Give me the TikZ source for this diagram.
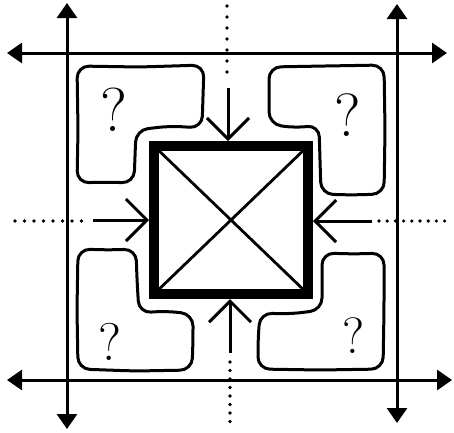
\documentclass[tikz,border=0pt]{standalone}
\usetikzlibrary{arrows.meta}
\begin{document}
\begin{tikzpicture}[x=1pt,y=-1pt,
  frame/.style={line width=3pt, {Triangle[length=15pt,width=20pt]}-{Triangle[length=15pt,width=20pt]}},
  inarrow/.style={line width=3pt, -{Straight Barb[length=21pt,width=42pt]}},
  dotline/.style={line width=3.6pt, line cap=round, dash pattern=on 0pt off #1},
  blob/.style={line width=3pt, rounded corners=12pt, line join=round},
  qmark/.style={inner sep=0pt, font=\fontsize{#1}{#1}\selectfont},
  box/.style={draw, line width=10.5pt, minimum width=154pt, minimum height=148pt, inner sep=0pt, outer sep=0pt},
  diag/.style={line width=2.8pt}]
\fill[white] (0,0) rectangle (454,432);
\useasboundingbox (0,0) rectangle (454,432);

% frame
\coordinate (tl) at (7,53);   \coordinate (tr) at (447,53);
\coordinate (bl) at (7,380);  \coordinate (br) at (452,380);
\coordinate (lt) at (67,3);   \coordinate (lb) at (67,429);
\coordinate (rt) at (397,4);  \coordinate (rb) at (397,423);
\draw[frame] (tl) -- (tr);
\draw[frame] (bl) -- (br);
\draw[frame] (lt) -- (lb);
\draw[frame] (rt) -- (rb);

% dotted guides
\coordinate (dt1) at (227,6);   \coordinate (dt2) at (227,80);
\coordinate (dl1) at (15,221);  \coordinate (dl2) at (85,221);
\coordinate (dr1) at (379,221); \coordinate (dr2) at (445,221);
\coordinate (db1) at (230,362); \coordinate (db2) at (230,424);
\draw[dotline=11pt] (dt1) -- (dt2);
\draw[dotline=9.5pt] (dl1) -- (dl2);
\draw[dotline=8.2pt] (dr1) -- (dr2);
\draw[dotline=8.5pt] (db1) -- (db2);

% blobs
\draw[blob] (140,67) -- (204,65) -- (202,128) -- (170,126) -- (136,130) -- (134,183)
  -- (105,182) -- (77,183) -- (78,130) -- (77,66) -- cycle;
\draw[blob] (325,66) -- (384,65) -- (385,130) -- (384,194) -- (350,195) -- (321,194)
  -- (320,160) -- (319,125) -- (295,128) -- (269,124) -- (269,95) -- (269,67) -- cycle;
\draw[blob] (110,250) -- (136,249) -- (137,280) -- (139,313) -- (165,311) -- (193,314)
  -- (193,340) -- (192,370) -- (135,371) -- (78,369) -- (77,310) -- (78,249) -- cycle;
\draw[blob] (355,254) -- (384,253) -- (384,310) -- (383,369) -- (320,370) -- (258,369)
  -- (258,340) -- (260,313) -- (290,314) -- (322,310) -- (322,280) -- (322,253) -- cycle;

% question marks
\node[qmark=62] (q1) at (114,110) {?};
\node[qmark=61] (q2) at (348,115) {?};
\node[qmark=53] (q3) at (110,342) {?};
\node[qmark=51] (q4) at (354,336) {?};

% central square
\node[box] (sq) at (231,220) {};
\draw[diag] (sq.north west) -- (sq.south east);
\draw[diag] (sq.north east) -- (sq.south west);

% inward arrows
\coordinate (at1) at (228,88);  \coordinate (at2) at (228,141);
\coordinate (al1) at (93,220);  \coordinate (al2) at (149,220);
\coordinate (ar1) at (372,221); \coordinate (ar2) at (313,221);
\coordinate (ab1) at (230,353); \coordinate (ab2) at (230,299);
\draw[inarrow] (at1) -- (at2);
\draw[inarrow] (al1) -- (al2);
\draw[inarrow] (ar1) -- (ar2);
\draw[inarrow] (ab1) -- (ab2);
\end{tikzpicture}
\end{document}
